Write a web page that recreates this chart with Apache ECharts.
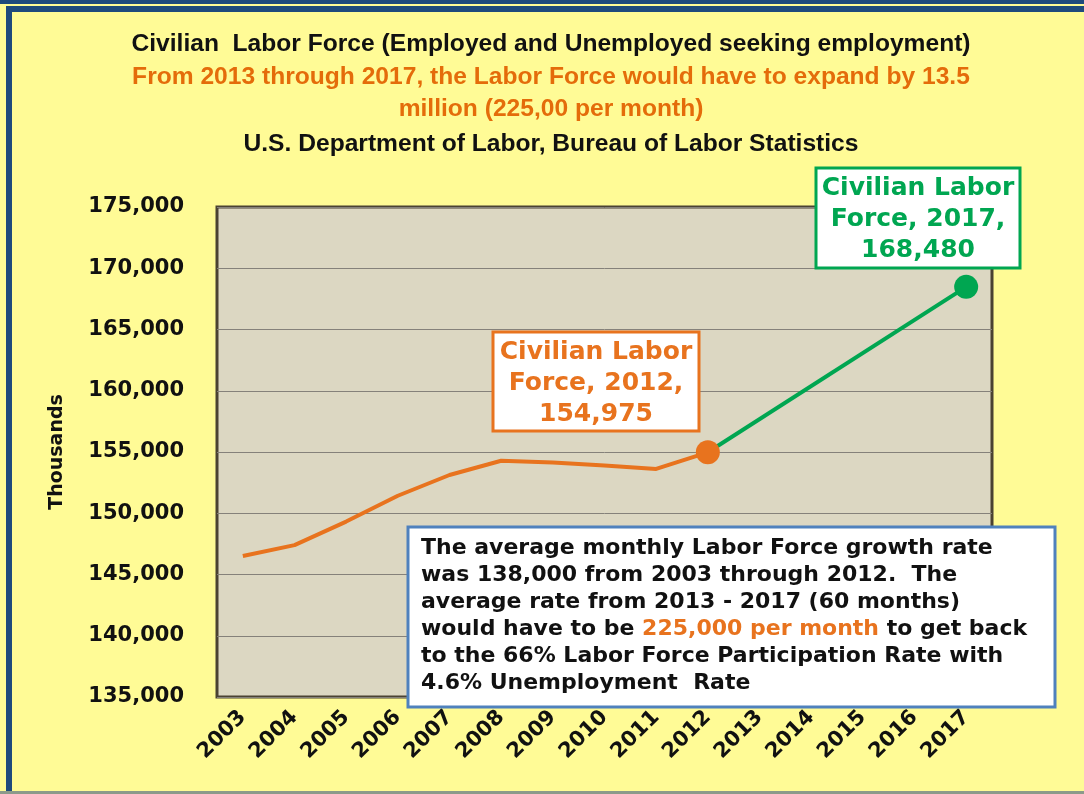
<!DOCTYPE html>
<html>
<head>
<meta charset="utf-8">
<script src="https://cdn.jsdelivr.net/npm/echarts@6/dist/echarts.min.js"></script>
<style>
  html, body { margin: 0; padding: 0; background: #FFFB96; }
  #chart { width: 1084px; height: 794px; }
</style>
</head>
<body>
<div id="chart"></div>
<script>
// years on the x axis
const years = ['2003', '2004', '2005', '2006', '2007', '2008', '2009', '2010',
  '2011', '2012', '2013', '2014', '2015', '2016', '2017']
// actual labor force, thousands
const actual = [146510, 147401, 149320, 151428, 153124, 154287, 154142, 153889, 153617, 154975]
// needed path: 2012 value to 2017 target (straight line, only endpoints)
const projected = [null, null, null, null, null, null, null, null, null, 154975, null, null, null, null, 168480]

const yMin = 135000
const yMax = 175000
const yStep = 5000

const orange = '#E8731E'
const green = '#00A651'
const bold = 'DejaVu Sans'

let myChart = echarts.init(document.getElementById('chart'))

let actualData = actual.map((v, i) => {
  if (i === actual.length - 1) {
    return { value: v, symbol: 'circle', symbolSize: 24, itemStyle: { color: orange } }
  }
  return v
})
let projectedData = projected.map((v, i) => {
  if (i === projected.length - 1) {
    return { value: v, symbol: 'circle', symbolSize: 24, itemStyle: { color: green } }
  }
  return v
})

let titleStyle = { fontFamily: 'Liberation Sans', fontWeight: 'bold', fontSize: 24.6 }

let option = {
  backgroundColor: '#FFFB96',
  animation: false,
  title: [
    { text: 'Civilian  Labor Force (Employed and Unemployed seeking employment)', left: 546, textAlign: 'center', top: 27,
      textStyle: Object.assign({ color: '#111' }, titleStyle) },
    { text: 'From 2013 through 2017, the Labor Force would have to expand by 13.5', left: 546, textAlign: 'center', top: 60,
      textStyle: Object.assign({ color: '#E46C0A' }, titleStyle) },
    { text: 'million (225,00 per month)', left: 546, textAlign: 'center', top: 92,
      textStyle: Object.assign({ color: '#E46C0A' }, titleStyle) },
    { text: 'U.S. Department of Labor, Bureau of Labor Statistics', left: 546, textAlign: 'center', top: 127,
      textStyle: Object.assign({ color: '#111' }, titleStyle) }
  ],
  grid: {
    left: 217, right: 92, top: 207, bottom: 97,
    show: true,
    backgroundColor: '#DCD7C2',
    borderColor: '#4A4232',
    borderWidth: 3
  },
  xAxis: {
    type: 'category',
    data: years,
    boundaryGap: true,
    axisLine: { show: false },
    axisTick: { show: false },
    axisLabel: {
      rotate: 45,
      margin: 17,
      interval: 0,
      color: '#111',
      fontFamily: bold,
      fontWeight: 'bold',
      fontSize: 21
    }
  },
  yAxis: {
    type: 'value',
    min: yMin,
    max: yMax,
    interval: yStep,
    name: 'Thousands',
    nameLocation: 'middle',
    nameGap: 150,
    nameTextStyle: { color: '#111', fontFamily: bold, fontWeight: 'bold', fontSize: 19 },
    axisLine: { show: false },
    axisTick: { show: false },
    splitLine: { lineStyle: { color: '#85817A', width: 1 } },
    axisLabel: {
      margin: 33,
      color: '#111',
      fontFamily: bold,
      fontWeight: 'bold',
      fontSize: 21,
      formatter: v => v.toLocaleString('en-US')
    }
  },
  series: [
    {
      name: 'projected',
      type: 'line',
      data: projectedData,
      connectNulls: true,
      symbol: 'none',
      lineStyle: { color: green, width: 4 },
      itemStyle: { color: green },
      z: 2
    },
    {
      name: 'actual',
      type: 'line',
      data: actualData,
      symbol: 'none',
      lineStyle: { color: orange, width: 4 },
      itemStyle: { color: orange },
      z: 3
    }
  ],
  graphic: [
    // frame decoration
    { type: 'rect', z: 100, shape: { x: 0, y: 0, width: 1084, height: 4 }, style: { fill: '#1F4A7C' } },
    { type: 'rect', z: 100, shape: { x: 6, y: 6, width: 1078, height: 6 }, style: { fill: '#1F4A7C' } },
    { type: 'rect', z: 100, shape: { x: 6, y: 6, width: 6, height: 788 }, style: { fill: '#1F4A7C' } },
    { type: 'rect', z: 100, shape: { x: 0, y: 791, width: 1084, height: 3 }, style: { fill: '#8C9A8A' } },
    // 2012 label
    { type: 'rect', z: 100, shape: { x: 493, y: 332, width: 206, height: 99 },
      style: { fill: '#fff', stroke: orange, lineWidth: 3 } },
    { type: 'text', z: 101, x: 596, y: 337,
      style: { text: 'Civilian Labor\nForce, 2012,\n154,975', fill: orange, align: 'center',
        font: 'bold 25px "DejaVu Sans"', lineHeight: 31 } },
    // 2017 label
    { type: 'rect', z: 100, shape: { x: 816, y: 168, width: 204, height: 100 },
      style: { fill: '#fff', stroke: green, lineWidth: 3 } },
    { type: 'text', z: 101, x: 918, y: 173,
      style: { text: 'Civilian Labor\nForce, 2017,\n168,480', fill: green, align: 'center',
        font: 'bold 25px "DejaVu Sans"', lineHeight: 31 } },
    // note box
    { type: 'rect', z: 100, shape: { x: 408, y: 527, width: 647, height: 180 },
      style: { fill: '#fff', stroke: '#4F81BD', lineWidth: 3 } },
    { type: 'text', z: 101, x: 421, y: 535,
      style: {
        text: 'The average monthly Labor Force growth rate\nwas 138,000 from 2003 through 2012.  The\naverage rate from 2013 - 2017 (60 months)\nwould have to be {o|225,000 per month} to get back\nto the 66% Labor Force Participation Rate with\n4.6% Unemployment  Rate',
        fill: '#111', font: 'bold 22px "DejaVu Sans"', lineHeight: 27,
        rich: { o: { fill: orange, font: 'bold 22px "DejaVu Sans"', lineHeight: 27 } }
      } }
  ]
}

myChart.setOption(option)
</script>
</body>
</html>
